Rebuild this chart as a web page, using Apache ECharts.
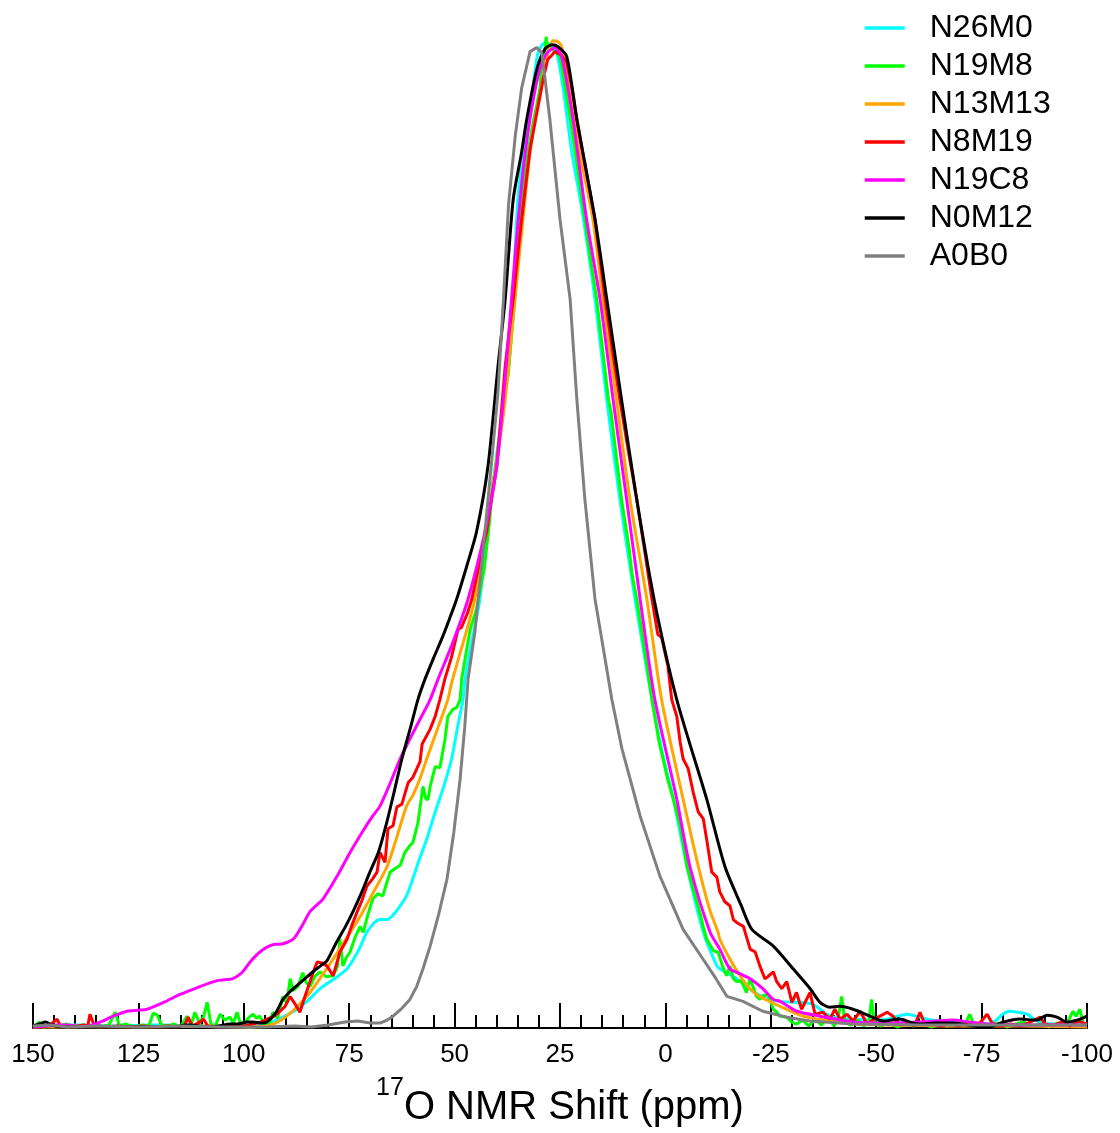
<!DOCTYPE html>
<html>
<head>
<meta charset="utf-8">
<script src="https://cdn.jsdelivr.net/npm/echarts@6/dist/echarts.min.js"></script>
<style>
html,body{margin:0;padding:0;background:#fff;}
#chart{width:1120px;height:1133px;}
</style>
</head>
<body>
<div id="chart"></div>
<script>
// [ppm, intensity (% of max)]
const seriesNames = ['N26M0','N19M8','N13M13','N8M19','N19C8','N0M12','A0B0'];
const seriesColors = ['#00ffff','#00ff00','#ffa500','#ff0000','#ff00ff','#000000','#808080'];
const seriesSmooth = [0.25, 0, 0.25, 0, 0.25, 0.25, 0];

const N26M0 = [[150,0.2],[140,0.3],[130,0.2],[120,0.3],[110,0.2],[102,0.2],[98.5,0.1],[94.5,0.4],[90.7,1.1],[87.4,1.9],[84.5,2.9],[81.9,4.0],[78.5,5.0],[75.5,6.0],[73,7.7],[70.8,9.7],[69,10.7],[67.7,11.0],[66.0,11.0],[64.5,11.5],[63.2,12.2],[61.4,13.4],[60,15.0],[58.6,16.8],[56.5,19.3],[54.6,21.9],[52.5,24.6],[50.7,27.3],[49.3,30.5],[48.0,33.3],[47.5,35.4],[46,39],[44.0,43.5],[42.3,50.3],[40.4,56.9],[38.8,62],[37.3,67.1],[36.2,73.9],[35.0,84.0],[33.3,90.2],[31.4,95.4],[30.2,98.9],[28.6,99.9],[27.2,99.7],[25.8,98.9],[24.3,95.4],[22.2,88.8],[19.8,83.0],[16.7,73.9],[13.9,63.7],[10.8,53.6],[7.2,43.5],[3.2,33.3],[0.5,27.5],[-1.9,23.2],[-5.1,16.4],[-9.0,9.7],[-12.2,6.3],[-12.9,6.0],[-16.9,5.0],[-20.8,3.7],[-24,3.0],[-27.2,2.7],[-31.2,2.6],[-35.0,2.4],[-38.3,1.4],[-41,1.0],[-44.5,0.9],[-48.5,0.8],[-52.6,0.9],[-55,1.2],[-57.3,1.4],[-59.5,1.2],[-62.0,0.9],[-65,0.7],[-68.2,0.6],[-72,0.5],[-76.3,0.4],[-78.5,0.8],[-80,1.4],[-81.7,1.7],[-83.5,1.6],[-85.8,1.4],[-87.5,0.9],[-88.9,0.6],[-92,0.4],[-96,0.4],[-100,0.4]];

const N19M8 = [[150,0.1],[148.5,0.6],[147.5,0.1],[146,0.3],[144,0.2],[142,0.4],[140,0.1],[138,0.3],[136,0.2],[134,0.1],[132,0.3],[130.5,1.6],[129.5,0.2],[128,0.4],[126,0.1],[124,0.3],[122.5,0.2],[121.5,1.5],[120.5,1.3],[119.5,0.3],[118,0.2],[116.5,0.4],[115,0.1],[113.5,1.2],[112.5,0.3],[111.6,1.6],[110.5,0.5],[109.5,1.2],[108.7,2.6],[107.8,0.4],[106.8,0.2],[105.6,1.4],[104.5,0.8],[103.3,1.1],[102.5,0.5],[101.6,1.6],[100.8,0.4],[100,0.3],[99,1.0],[97.8,1.4],[97,1.0],[96.2,1.2],[95.3,0.5],[94.5,0.1],[93.8,0.6],[93.1,1.6],[92,1.0],[90.7,3.2],[89.8,2.5],[89.0,5.0],[88.3,3.8],[87.2,4.2],[86.0,5.6],[85.2,4.6],[84.3,4.2],[83.2,5.2],[81.9,5.7],[80.5,5.2],[78.8,5.3],[77.8,6.2],[77.2,9.0],[76.5,6.3],[75.6,7.2],[74.8,7.7],[73.6,9.2],[72.4,10.3],[71.7,9.7],[70.5,11.6],[69.4,13.1],[68.2,13.6],[67.0,13.4],[66.2,14.6],[65.3,15.8],[64.0,16.2],[62.9,16.5],[61.8,17.8],[60.8,18.4],[59.9,18.8],[58.7,20.8],[57.5,24.5],[56.8,23.2],[56.3,23.2],[55.8,24.5],[54.6,26.5],[53.5,26.4],[53.1,26.2],[52.3,29.2],[51.6,31.6],[50.4,32.3],[49.5,32.5],[48.7,33.3],[48.3,35.4],[47.3,38.0],[46.3,40.4],[44.8,42.5],[44.4,43.5],[43.0,46.5],[41.8,51.0],[40.9,55.3],[40.4,56.3],[39.2,60.5],[38.0,65.5],[37.3,66.1],[36.5,70.2],[35.7,73.9],[34.9,78.5],[34.0,84.0],[32.8,88.2],[31.5,91.5],[30.5,93.6],[29.7,95.4],[29.3,98.2],[28.7,98.6],[28.3,100.5],[27.9,99.2],[27.2,99.4],[26.2,99.0],[25.0,98.5],[24.2,96.6],[23.4,94.4],[22.4,91.8],[21.4,88.8],[20.2,85.3],[19.1,82.0],[17.7,77.8],[16.3,73.9],[14.9,68.8],[13.5,63.7],[12.9,62.5],[12.0,59.2],[10.4,53.6],[8.6,48.6],[7.9,46.0],[6.8,43.5],[5.0,38.5],[3.2,33.3],[1.5,29.0],[-0.5,25.3],[-2.0,23.0],[-3.5,20.5],[-5.1,16.4],[-6.5,14.2],[-7.6,12.6],[-8.6,11.0],[-9.0,10.2],[-9.8,9.0],[-11.4,7.8],[-12.5,7.7],[-13.6,6.2],[-14.5,5.3],[-15.3,6.3],[-16.1,5.0],[-16.9,4.7],[-18.0,4.8],[-19.2,3.6],[-20.1,5.0],[-21.6,3.2],[-22.4,2.9],[-23.2,3.3],[-24.4,3.4],[-25.6,1.9],[-26.4,1.6],[-27.2,1.2],[-28.8,1.1],[-30.0,0.6],[-31.1,0.4],[-32.5,0.8],[-34,0.2],[-35.5,0.9],[-37,0.3],[-38.5,1.2],[-40,0.2],[-41.0,1.0],[-41.8,3.2],[-42.6,0.6],[-44,0.3],[-45.5,0.8],[-47,0.2],[-48.2,0.5],[-48.9,2.9],[-49.6,0.5],[-51,0.2],[-53,0.5],[-55,0.1],[-57,0.4],[-59,0.2],[-61,0.5],[-63,0.1],[-65,0.3],[-67,0.2],[-69,0.6],[-71,0.3],[-72.2,1.4],[-73.2,0.3],[-75,0.6],[-77,0.2],[-79,0.5],[-81,0.1],[-83,0.4],[-85,0.6],[-87,0.2],[-89,0.4],[-91,0.1],[-93,0.5],[-95,0.3],[-96.7,1.7],[-97.4,1.2],[-98.3,1.9],[-99.2,0.3],[-100,0.5]];

const N13M13 = [[150,0.1],[140,0.1],[130,0.1],[120,0.1],[110,0.2],[100,0.1],[94.5,0.2],[92,0.6],[89.8,1.2],[87,2.3],[84.3,3.6],[81.5,5.3],[78.8,7.0],[75.5,9.2],[72.4,11.3],[69.2,13.8],[66.0,16.4],[63.6,19.5],[61.4,22.5],[59.9,23.6],[58.2,25.3],[56.6,27.3],[54.0,30.4],[51.6,33.3],[50.7,35.0],[48.5,38.3],[47,40.5],[45.2,43.5],[42.6,50.3],[40.2,56.9],[38.0,63.7],[35.7,73.9],[33.8,82.0],[32.1,88.8],[30.9,92.1],[29.7,94.5],[28.2,98.3],[26.7,100.1],[25.5,100.0],[24.6,99.5],[22.6,95.4],[20.3,88.8],[17.2,82.0],[14.8,73.9],[11.6,63.7],[8.4,53.6],[4.4,43.5],[0.9,33.3],[-4.2,23.2],[-7.8,16.4],[-10.5,12.0],[-12.5,9.7],[-12.9,9.0],[-15.3,7.0],[-17.7,5.3],[-20,4.0],[-22.4,3.2],[-27.2,2.2],[-32.6,1.2],[-39.0,0.7],[-45,0.4],[-55,0.3],[-70,0.2],[-85,0.2],[-100,0.1]];

const N8M19 = [[150,0.2],[148,0.1],[146,0.3],[144.3,0.9],[143.5,0.2],[141,0.1],[138,0.3],[137,0.2],[136.5,1.4],[135.5,0.3],[133,0.1],[130,0.2],[127,0.1],[124,0.2],[121,0.1],[118,0.2],[116,0.1],[114,0.3],[113.2,1.1],[112.2,0.2],[110.5,0.6],[109.6,0.9],[108.5,0.2],[106,0.1],[103,0.3],[100,0.2],[97.8,0.4],[96,0.6],[94.5,0.9],[92.8,1.2],[91.4,1.7],[90.2,2.2],[89.0,3.2],[87.8,2.4],[86.7,1.6],[85.5,3.2],[84.3,4.7],[83.4,5.8],[82.6,6.7],[81.4,6.6],[80.3,6.3],[78.8,5.3],[77.2,7.7],[75.5,9.0],[74.3,10.5],[73.1,11.8],[72.0,12.9],[70.8,14.4],[69.5,15.1],[68.4,15.8],[67.7,17.8],[66.5,16.8],[65.8,20.2],[64.6,20.5],[63.7,22.4],[62.5,22.7],[61.0,24.9],[59.9,25.4],[58.2,27.0],[57.7,28.8],[55.8,30.3],[54.6,31.6],[53.5,33.3],[52.3,35.4],[50.8,37.5],[49.2,40.4],[48.4,40.6],[47.0,42.0],[45.9,43.5],[44.2,47.0],[42.4,50.3],[41.2,53.8],[40.0,56.9],[39.0,62.0],[38.0,67.1],[37.0,70.8],[36.1,73.9],[35.0,78.5],[34.1,82.0],[33.1,85.6],[32.1,89.1],[30.5,92.8],[29.0,96.2],[27.9,98.2],[27.0,98.6],[26.2,99.0],[24.8,98.7],[23.4,97.9],[22.2,95.4],[21.0,92.2],[19.6,88.8],[18.2,85.5],[16.7,82.0],[15.5,78.0],[14.3,73.9],[12.5,68.5],[10.8,63.7],[8.8,58.5],[6.8,53.6],[4.9,48.3],[3.2,43.5],[1.8,39.9],[0.9,39.6],[-0.6,36.7],[-1.5,33.3],[-2.7,31.6],[-3.5,29.0],[-4.2,27.3],[-5.4,26.3],[-6.6,23.9],[-7.8,21.9],[-9.0,21.2],[-9.8,19.1],[-11.0,15.8],[-12.2,15.3],[-12.9,13.8],[-14.1,12.8],[-15.3,12.4],[-16.1,11.0],[-16.9,10.7],[-17.7,10.5],[-18.5,10.3],[-20.1,8.0],[-21.3,7.7],[-22.4,6.3],[-23.6,5.0],[-24.3,5.2],[-25.6,5.7],[-26.4,4.7],[-27.6,4.0],[-28.8,4.7],[-30.0,2.6],[-31.1,3.6],[-32.3,1.9],[-34.3,3.6],[-35.5,1.4],[-37.4,1.6],[-39.0,0.9],[-40.2,1.9],[-41.4,0.9],[-43.1,1.4],[-44.5,0.7],[-46.2,1.7],[-47.8,0.4],[-49.5,0.9],[-50.9,1.2],[-52.6,1.6],[-54.0,1.2],[-55.5,0.3],[-57.5,0.6],[-59.0,0.2],[-60.4,1.6],[-61.5,0.4],[-63.5,0.4],[-65.5,0.2],[-67.5,0.5],[-69.5,0.2],[-72,0.6],[-74,0.2],[-76.3,1.4],[-77.5,0.5],[-79.5,0.2],[-82,0.4],[-84,0.2],[-86,0.5],[-88.9,1.1],[-90,0.4],[-92,0.3],[-94,0.6],[-96,0.2],[-98,0.7],[-100,0.4]];

const N19C8 = [[150,0.1],[147,0.2],[144.3,0.3],[141.9,0.3],[138.1,0.1],[134.1,0.6],[131,1.2],[127.7,1.7],[125,1.8],[123.0,1.9],[119,2.6],[115.1,3.4],[111,4.1],[106.4,4.8],[104.5,4.9],[102.6,5.0],[100.5,5.6],[98.5,6.7],[96.5,7.6],[94.5,8.2],[92.5,8.5],[91.4,8.5],[88.3,9.0],[86,10.5],[84.3,11.8],[81.2,13.1],[78,15.3],[74.8,17.8],[72,19.8],[69.4,21.5],[67.7,22.5],[65.5,24.6],[62.9,27.3],[60.5,29.4],[58.2,31.3],[55.8,33.3],[53.9,35.4],[50.5,39.0],[46.8,43.5],[42.8,50.3],[40.0,56.9],[38.6,63],[37.4,69],[36.2,75.5],[35.0,81.5],[33.6,87.5],[31.8,93],[29.8,97.2],[28,98.9],[26.2,99.4],[24.6,98.5],[21.9,92.1],[18.7,82.0],[15.5,73.9],[12.4,63.7],[9.2,53.6],[6.0,43.5],[2.5,33.3],[-2.7,23.2],[-5.8,16.4],[-10.6,9.7],[-12.9,8.0],[-15.3,6.0],[-17.7,5.5],[-20.1,5.0],[-23.1,4.0],[-25.6,2.9],[-27.2,2.7],[-31.2,1.7],[-36.7,1.2],[-44.5,0.6],[-52,0.5],[-60.4,0.6],[-64,0.7],[-68.2,0.8],[-72,0.6],[-76.3,0.4],[-85,0.3],[-100,0.3]];

const N0M12 = [[150,0.2],[148.5,0.4],[147,0.6],[145.5,0.3],[143,0.1],[140,0.1],[130,0.1],[120,0.1],[116,0.1],[114,0.3],[112.8,0.3],[110.5,0.2],[108.7,0.1],[106,0.2],[103.3,0.4],[101.5,0.4],[99.2,0.6],[97.8,0.6],[96,0.5],[94.5,0.6],[92.5,1.5],[90.7,2.9],[89,3.7],[87.4,4.3],[85.5,5.0],[83.6,5.7],[81.5,6.4],[80.3,6.8],[78,8.7],[76,10.2],[74.1,11.8],[72.2,13.6],[70.1,15.8],[68,17.9],[66.0,21.0],[64.2,24.2],[62.5,27.3],[60.5,30.4],[58.7,33.3],[57.0,35.4],[55,37.5],[53,39.5],[51.2,41.5],[49.5,43.5],[47,47],[44.8,50.3],[42.1,56.9],[39.7,67.1],[38.0,73.9],[36.1,84.0],[34.1,88.8],[32.9,92.1],[30.5,97.2],[28.5,99.3],[26.7,99.7],[25.5,99.5],[23.4,98.5],[21.0,92.1],[16.7,82.0],[13.9,73.9],[10.4,63.7],[6.8,53.6],[2.7,43.5],[-2.7,33.3],[-9.8,23.2],[-14.1,16.4],[-18,12.4],[-20.5,10.0],[-25.6,8.3],[-30.3,6.0],[-34.3,4.0],[-36.7,2.6],[-39.0,2.1],[-41.4,2.2],[-44.5,1.9],[-48.5,1.2],[-51.6,0.7],[-55.6,0.9],[-58.0,0.6],[-60.4,0.4],[-64,0.5],[-68.2,0.5],[-73.0,0.2],[-76.3,0.1],[-78.5,0.3],[-80.1,0.6],[-84.1,0.9],[-88.1,0.8],[-90.5,1.3],[-92.9,1.1],[-95.3,0.6],[-97.6,0.8],[-99.5,1.1],[-100,1.2]];

const A0B0 = [[150,0.2],[146,0.3],[142,0.1],[135,0.2],[125,0.1],[115,0.2],[105,0.1],[95,0.1],[88,0.2],[84,0.1],[80,0.3],[76,0.6],[73,0.7],[70,0.5],[67.7,0.5],[66,0.8],[64.6,1.2],[62.5,2.0],[60.6,2.9],[59,4.2],[57.5,6.0],[55.8,8.3],[53.8,11.5],[51.8,15.1],[50.2,19.8],[48.7,25.2],[47.6,30.5],[46.8,35.4],[45.2,40.1],[42.8,50.3],[41.2,57.5],[39.7,64.5],[38.4,74.0],[37.2,83.5],[35.6,90.5],[34.1,95.3],[32.1,99.0],[30.5,99.4],[29.3,98.9],[27.4,92.1],[25.0,82.0],[22.6,73.9],[21.0,63.7],[19.1,53.6],[16.7,43.5],[12.7,33.3],[10.3,28.3],[6.0,21.5],[1.3,15.4],[-4.2,10.0],[-8.9,7.0],[-12,5.0],[-14.6,3.2],[-18.4,2.7],[-23.1,1.7],[-28.8,1.1],[-34.3,0.7],[-44.5,0.4],[-60,0.3],[-80,0.3],[-100,0.3]];

const seriesData = [N26M0, N19M8, N13M13, N8M19, N19C8, N0M12, A0B0];
const xTicks = {min: -100, max: 150, step: 25};
const FONT = '"Liberation Sans", Arial, Helvetica, sans-serif';

const chart = echarts.init(document.getElementById('chart'), null, {renderer: 'canvas'});
chart.setOption({
  animation: false,
  backgroundColor: '#ffffff',
  grid: {left: 33, right: 33, top: 22, bottom: 104, containLabel: false},
  legend: {
    orient: 'vertical',
    left: 863,
    top: 12,
    padding: 0,
    itemWidth: 40,
    itemHeight: 32,
    itemGap: 6,
    itemStyle: {opacity: 0},
    lineStyle: {width: 3.5},
    textStyle: {fontSize: 32, color: '#000', fontFamily: FONT, padding: [0, 0, 0, 20]},
    data: seriesNames
  },
  xAxis: {
    type: 'value',
    min: xTicks.min,
    max: xTicks.max,
    interval: xTicks.step,
    inverse: true,
    axisLine: {show: true, lineStyle: {color: '#000', width: 2}},
    axisTick: {show: true, inside: true, length: 25, lineStyle: {color: '#000', width: 2}},
    minorTick: {show: true, splitNumber: 5, length: 13, lineStyle: {color: '#000', width: 2}},
    splitLine: {show: false},
    axisLabel: {fontSize: 26, color: '#000', margin: 14, fontFamily: FONT},
    name: '{sup|17}{main|O NMR Shift (ppm)}',
    nameLocation: 'middle',
    nameGap: 48,
    nameTextStyle: {
      color: '#000',
      fontFamily: FONT,
      rich: {
        sup: {fontSize: 25, lineHeight: 25, verticalAlign: 'top', fontFamily: FONT, color: '#000'},
        main: {fontSize: 40, lineHeight: 64, fontFamily: FONT, color: '#000'}
      }
    }
  },
  yAxis: {type: 'value', min: 0, max: 102, show: false},
  series: seriesNames.map((name, i) => ({
    name: name,
    type: 'line',
    data: seriesData[i],
    symbol: 'none',
    smooth: seriesSmooth[i] || false,
    clip: true,
    lineStyle: {color: seriesColors[i], width: 3},
    itemStyle: {color: seriesColors[i]}
  }))
});
</script>
</body>
</html>
